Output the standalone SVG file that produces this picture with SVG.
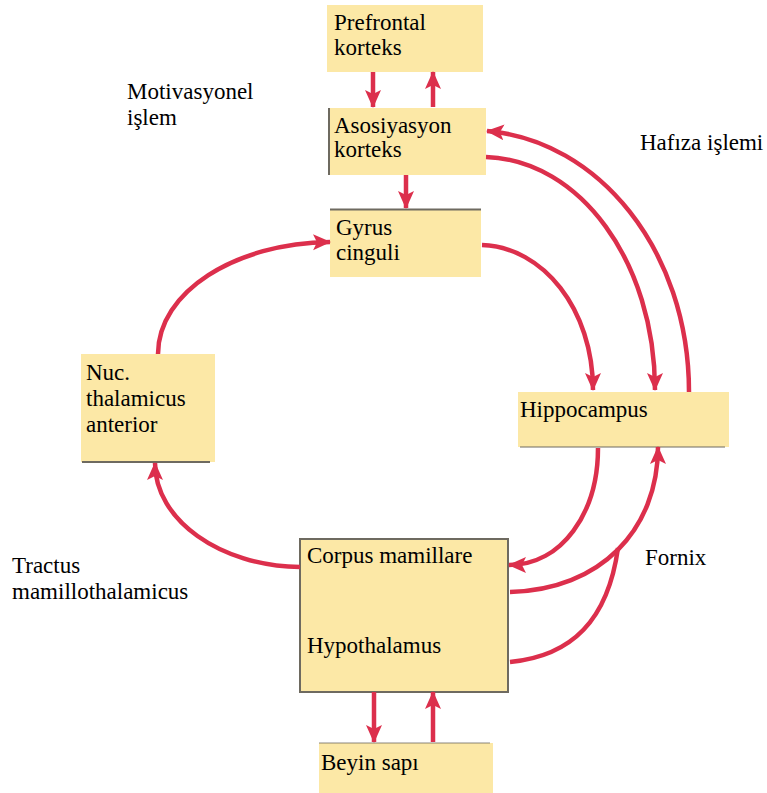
<svg xmlns="http://www.w3.org/2000/svg" width="767" height="793" viewBox="0 0 767 793">
<style>
.box{fill:#fce8a6;}
.edge{stroke:#6e6a60;stroke-width:2;fill:none;}
.c{fill:none;stroke:#dc2f4c;stroke-width:4.5;stroke-linecap:butt;}
</style>
<defs>
<marker id="ah" markerUnits="userSpaceOnUse" markerWidth="20" markerHeight="18" viewBox="0 0 20 18" refX="17" refY="9" orient="auto">
<path d="M0,1 L18,9 L0,17 L4,9 z" fill="#dc2f4c"/>
</marker>
</defs>
<rect width="767" height="793" fill="#ffffff"/>

<g id="prefrontal">
<rect class="box" x="327" y="5" width="156" height="67"/>
<text x="334" y="30" font-family="Liberation Serif" font-size="23">Prefrontal</text>
<text x="334" y="55" font-family="Liberation Serif" font-size="23">korteks</text>
</g>
<g id="asosiyasyon">
<rect class="box" x="328" y="108" width="158" height="67"/>
<line class="edge" x1="329" y1="108" x2="329" y2="175"/>
<text x="334" y="133" font-family="Liberation Serif" font-size="23">Asosiyasyon</text>
<text x="334" y="157" font-family="Liberation Serif" font-size="23">korteks</text>
</g>
<g id="gyrus">
<rect class="box" x="330" y="209" width="151" height="68"/>
<line class="edge" x1="330" y1="209.5" x2="481" y2="209.5"/>
<text x="336" y="235" font-family="Liberation Serif" font-size="23">Gyrus</text>
<text x="336" y="260" font-family="Liberation Serif" font-size="23">cinguli</text>
</g>
<g id="nuc">
<rect class="box" x="81" y="354" width="134" height="108"/>
<line class="edge" x1="82" y1="462" x2="210" y2="462"/>
<text x="86" y="380" font-family="Liberation Serif" font-size="23">Nuc.</text>
<text x="86" y="406" font-family="Liberation Serif" font-size="23">thalamicus</text>
<text x="86" y="432" font-family="Liberation Serif" font-size="23">anterior</text>
</g>
<g id="hippocampus">
<rect class="box" x="518" y="392" width="211" height="55"/>
<line class="edge" x1="520" y1="447" x2="725" y2="447" stroke-opacity="0.5"/>
<text x="520" y="417" font-family="Liberation Serif" font-size="23">Hippocampus</text>
</g>
<g id="corpus">
<rect class="box" x="300" y="539" width="208" height="153" stroke="#6e6a60" stroke-width="2"/>
<text x="307" y="563" font-family="Liberation Serif" font-size="23">Corpus mamillare</text>
<text x="307" y="653" font-family="Liberation Serif" font-size="23">Hypothalamus</text>
</g>
<g id="beyin">
<rect class="box" x="319" y="743" width="174" height="50"/>
<line class="edge" x1="319" y1="743" x2="490" y2="743" stroke-opacity="0.4"/>
<text x="321" y="770" font-family="Liberation Serif" font-size="23">Beyin sapı</text>
</g>

<g id="labels">
<text x="127" y="99" font-family="Liberation Serif" font-size="23">Motivasyonel</text>
<text x="127" y="125" font-family="Liberation Serif" font-size="23">işlem</text>
<text x="640" y="150" font-family="Liberation Serif" font-size="23">Hafıza işlemi</text>
<text x="12" y="573" font-family="Liberation Serif" font-size="23">Tractus</text>
<text x="12" y="599" font-family="Liberation Serif" font-size="23">mamillothalamicus</text>
<text x="645" y="565" font-family="Liberation Serif" font-size="23">Fornix</text>
</g>

<g id="connectors">
<path class="c" d="M373,72 L373,107" marker-end="url(#ah)"/>
<path class="c" d="M433,107 L433,72" marker-end="url(#ah)"/>
<path class="c" d="M406,175 L406,208" marker-end="url(#ah)"/>
<path class="c" d="M482,245 C543,247 593,309 593,390" marker-end="url(#ah)"/>
<path class="c" d="M486,157 C580,160 655,262 655,390" marker-end="url(#ah)"/>
<path class="c" d="M689,392 C689,250 598,140 487,131" marker-end="url(#ah)"/>
<path class="c" d="M158,354 C158,292 235,243 330,242" marker-end="url(#ah)"/>
<path class="c" d="M300,567 C220,566 155,520 155,463" marker-end="url(#ah)"/>
<path class="c" d="M598,448 C598,513 562,565 509,565" marker-end="url(#ah)"/>
<path class="c" d="M510,592 C600,590 658,530 658,447" marker-end="url(#ah)"/>
<path class="c" d="M510,662 C572,656 608,620 618,548"/>
<path class="c" d="M374,692 L374,742" marker-end="url(#ah)"/>
<path class="c" d="M433,742 L433,692" marker-end="url(#ah)"/>
</g>
</svg>
